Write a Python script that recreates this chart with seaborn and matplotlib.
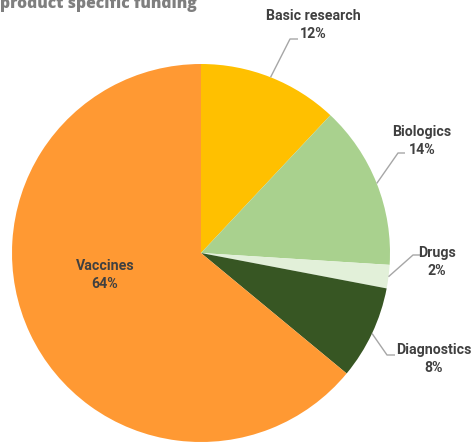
import numpy as np
import matplotlib
matplotlib.use("Agg")
import matplotlib.pyplot as plt
import seaborn as sns

# Product specific funding shares (%)
categories = ["Basic research", "Biologics", "Drugs", "Diagnostics", "Vaccines"]
shares = [12, 14, 2, 8, 64]
colors = ["#FFC000", "#A9D18E", "#E2F0D9", "#375623", "#FF9933"]

sns.set_theme(style="white")
plt.rcParams["font.family"] = ["Roboto", "DejaVu Sans"]

W, H = 473, 443
fig = plt.figure(figsize=(W / 100, H / 100), dpi=100)

# pie geometry in pixels (from top-left)
CX, CY, R = 201, 253, 189
ax = fig.add_axes([(CX - R) / W, (H - CY - R) / H, 2 * R / W, 2 * R / H])

wedges, _ = ax.pie(shares, colors=colors, startangle=90, counterclock=False,
                   wedgeprops=dict(linewidth=0))
ax.set_xlim(-1, 1)
ax.set_ylim(-1, 1)
ax.set_aspect("equal")
ax.axis("off")


def px(x, y):
    """Pixel position (from top-left of the figure) to pie data coordinates."""
    return (x - CX) / R, (CY - y) / R


text_color = "#404040"
line_color = "#A6A6A6"
label_kw = dict(ha="center", va="center", fontsize=10.2, fontweight="bold",
                color=text_color, linespacing=1.3, clip_on=False)

# label centres and leader elbows/ends (pixels)
label_pos = {
    "Basic research": (313, 25),
    "Biologics": (422, 141),
    "Drugs": (437, 262),
    "Diagnostics": (434, 359),
    "Vaccines": (105, 275),
}
leaders = {
    "Basic research": ((290, 39), (298, 39)),
    "Biologics": ((398, 153), (405, 153)),
    "Drugs": ((413, 255), (420, 255)),
    "Diagnostics": ((387, 355), (395, 355)),
}

for w, name, val in zip(wedges, categories, shares):
    lx, ly = px(*label_pos[name])
    ax.text(lx, ly, f"{name}\n{val}%", **label_kw)
    if name in leaders:
        mid = np.deg2rad((w.theta1 + w.theta2) / 2)
        sx, sy = np.cos(mid), np.sin(mid)
        (ex, ey), (fx, fy) = [px(*p) for p in leaders[name]]
        ax.plot([sx, ex, fx], [sy, ey, fy], color=line_color, lw=1,
                clip_on=False, solid_capstyle="butt")

fig.text(0.0, 1 - 8 / H, "product specific funding", ha="left", va="baseline",
         fontsize=11.3, fontweight="heavy", color="#7F7F7F",
         family=["Open Sans", "DejaVu Sans"])

fig.savefig("out.png", dpi=100, facecolor="white")
